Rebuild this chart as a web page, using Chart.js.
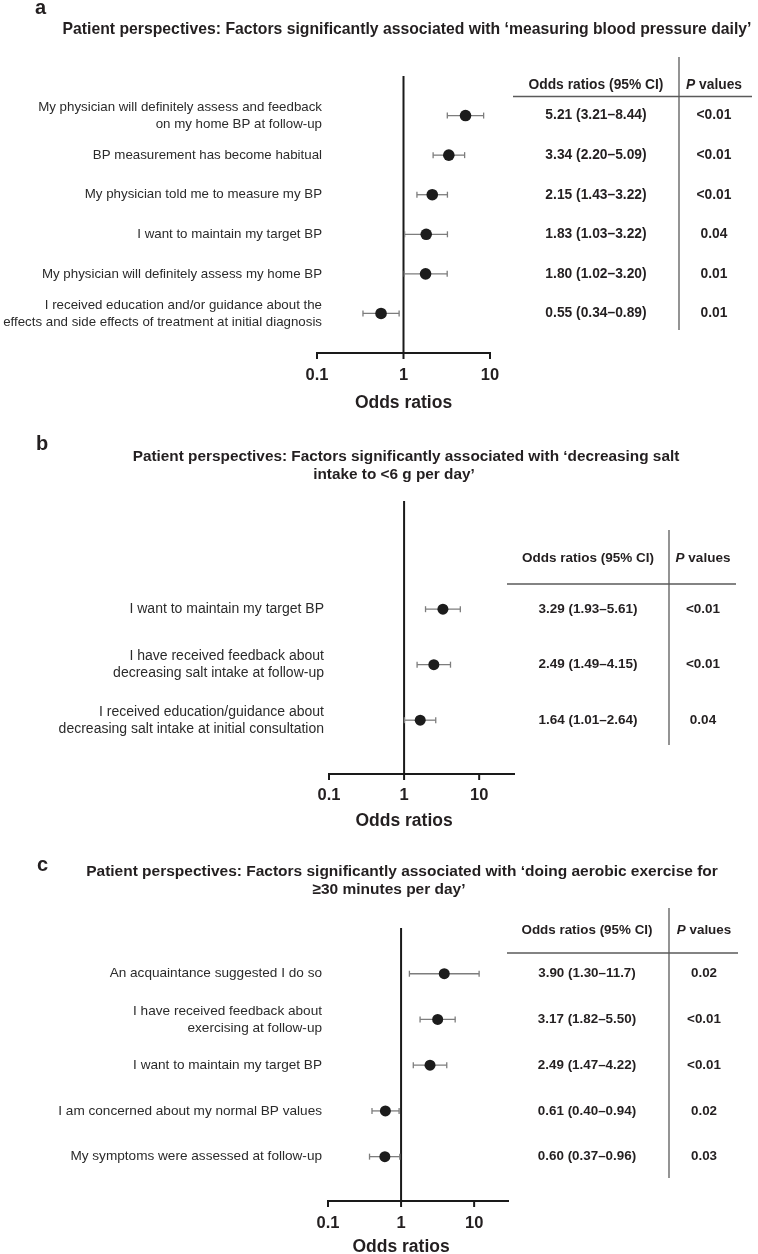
<!DOCTYPE html>
<html>
<head>
<meta charset="utf-8">
<script src="https://cdn.jsdelivr.net/npm/chart.js@4.4.1/dist/chart.umd.min.js"></script>
<style>
  html, body { margin: 0; padding: 0; background: #fff; }
  #wrap { position: relative; width: 758px; height: 1254px; overflow: hidden; }
  canvas { position: absolute; left: 0; }
</style>
</head>
<body>
<div id="wrap">
  <canvas id="chartA" width="758" height="425" style="top:0px"></canvas>
  <canvas id="chartB" width="758" height="415" style="top:425px"></canvas>
  <canvas id="chartC" width="758" height="414" style="top:840px"></canvas>
</div>
<script>
// ---- data ----
const xTicks = [0.1, 1, 10];

// a: measuring blood pressure daily
const titleA = ['Patient perspectives: Factors significantly associated with \u2018measuring blood pressure daily\u2019'];
const labelsA = [
  ['My physician will definitely assess and feedback', 'on my home BP at follow-up'],
  ['BP measurement has become habitual'],
  ['My physician told me to measure my BP'],
  ['I want to maintain my target BP'],
  ['My physician will definitely assess my home BP'],
  ['I received education and/or guidance about the', 'effects and side effects of treatment at initial diagnosis']
];
const orA = [5.21, 3.34, 2.15, 1.83, 1.80, 0.55];
const loA = [3.21, 2.20, 1.43, 1.03, 1.02, 0.34];
const hiA = [8.44, 5.09, 3.22, 3.22, 3.20, 0.89];
const pA = ['<0.01', '<0.01', '<0.01', '0.04', '0.01', '0.01'];

// b: decreasing salt intake
const titleB = ['Patient perspectives: Factors significantly associated with \u2018decreasing salt', 'intake to <6 g per day\u2019'];
const labelsB = [
  ['I want to maintain my target BP'],
  ['I have received feedback about', 'decreasing salt intake at follow-up'],
  ['I received education/guidance about', 'decreasing salt intake at initial consultation']
];
const orB = [3.29, 2.49, 1.64];
const loB = [1.93, 1.49, 1.01];
const hiB = [5.61, 4.15, 2.64];
const pB = ['<0.01', '<0.01', '0.04'];

// c: aerobic exercise
const titleC = ['Patient perspectives: Factors significantly associated with \u2018doing aerobic exercise for', '\u226530 minutes per day\u2019'];
const labelsC = [
  ['An acquaintance suggested I do so'],
  ['I have received feedback about', 'exercising at follow-up'],
  ['I want to maintain my target BP'],
  ['I am concerned about my normal BP values'],
  ['My symptoms were assessed at follow-up']
];
const orC = [3.90, 3.17, 2.49, 0.61, 0.60];
const loC = [1.30, 1.82, 1.47, 0.40, 0.37];
const hiC = [11.7, 5.50, 4.22, 0.94, 0.96];
const pC = ['0.02', '<0.01', '<0.01', '0.02', '0.03'];

// ---- drawing helpers ----
const FONT = '"Liberation Sans", Arial, Helvetica, sans-serif';
const INK = '#231f20';

function fnt(size, bold, italic) {
  return (italic ? 'italic ' : '') + (bold ? 'bold ' : '') + size + 'px ' + FONT;
}
function put(ctx, s, x, y, size, o) {
  o = o || {};
  ctx.save();
  ctx.font = fnt(size, o.bold, o.italic);
  ctx.fillStyle = o.color || INK;
  ctx.textAlign = o.align || 'center';
  ctx.textBaseline = 'middle';
  ctx.fillText(s, x, y);
  ctx.restore();
}
function fitSize(ctx, s, width, bold) {
  ctx.save();
  ctx.font = fnt(100, bold);
  const w = ctx.measureText(s).width;
  ctx.restore();
  return 100 * width / w;
}
function fmt(v) {
  return v >= 10 ? v.toFixed(1) : v.toFixed(2);
}
function line(ctx, x1, y1, x2, y2, w, c) {
  ctx.save();
  ctx.strokeStyle = c;
  ctx.lineWidth = w;
  ctx.beginPath();
  ctx.moveTo(x1, y1);
  ctx.lineTo(x2, y2);
  ctx.stroke();
  ctx.restore();
}

function forestPlugin(d, L) {
  return {
    id: 'forest',
    beforeDatasetsDraw(chart) {
      const ctx = chart.ctx, x = chart.scales.x, y = chart.scales.y, ca = chart.chartArea;
      // axis and line of no effect
      const x0 = x.getPixelForValue(x.min), x1 = x.getPixelForValue(x.max);
      line(ctx, x0, ca.bottom, x1, ca.bottom, 2, '#1a1a1a');
      xTicks.forEach(t => {
        const px = x.getPixelForValue(t);
        line(ctx, px, ca.bottom - 1, px, ca.bottom + 6, 2, '#1a1a1a');
      });
      const p1 = x.getPixelForValue(1);
      line(ctx, p1, ca.top, p1, ca.bottom, 2, '#1a1a1a');
      // confidence intervals
      d.or.forEach((v, i) => {
        const py = y.getPixelForValue(i);
        const a = x.getPixelForValue(d.lo[i]), b = x.getPixelForValue(d.hi[i]);
        line(ctx, a, py, b, py, 1.3, '#7d7d7d');
        line(ctx, a, py - 3, a, py + 3, 1.3, '#7d7d7d');
        line(ctx, b, py - 3, b, py + 3, 1.3, '#7d7d7d');
      });
    },
    afterDraw(chart) {
      const ctx = chart.ctx, x = chart.scales.x, y = chart.scales.y, ca = chart.chartArea;
      const T = L.top;
      // panel letter
      put(ctx, L.letter, L.letterX, L.letterY - T, 20, { bold: true, align: 'left' });
      // title
      const ts = fitSize(ctx, d.title[0], L.titleW, true);
      d.title.forEach((s, k) => put(ctx, s, L.titleX[k], L.titleY[k] - T, ts, { bold: true }));
      // category labels
      d.labels.forEach((lab, i) => {
        const py = y.getPixelForValue(i);
        lab.forEach((s, k) => {
          const off = (k - (lab.length - 1) / 2) * 17;
          put(ctx, s, L.labelX, py + off, L.labelSize, { align: 'right', color: '#2b2b2b' });
        });
      });
      // x tick labels and axis title
      xTicks.forEach(t => put(ctx, String(t), x.getPixelForValue(t), L.tickY - T, 16.5, { bold: true }));
      put(ctx, 'Odds ratios', x.getPixelForValue(1), L.axTitleY - T, 17.5, { bold: true });
      // table
      line(ctx, L.tblX0, L.hLineY - T, L.tblX1, L.hLineY - T, 1.3, '#5a5a5a');
      line(ctx, L.divX, L.divY0 - T, L.divX, L.divY1 - T, 1.3, '#5a5a5a');
      put(ctx, 'Odds ratios (95% CI)', L.ciX, L.headY - T, L.tblSize, { bold: true });
      ctx.save();
      ctx.font = fnt(L.tblSize, true, true);
      const wP = ctx.measureText('P').width;
      ctx.font = fnt(L.tblSize, true);
      const wV = ctx.measureText(' values').width;
      ctx.restore();
      const sx = L.pX - (wP + wV) / 2;
      put(ctx, 'P', sx, L.headY - T, L.tblSize, { bold: true, italic: true, align: 'left' });
      put(ctx, ' values', sx + wP, L.headY - T, L.tblSize, { bold: true, align: 'left' });
      d.or.forEach((v, i) => {
        const py = y.getPixelForValue(i);
        put(ctx, fmt(v) + ' (' + fmt(d.lo[i]) + '\u2013' + fmt(d.hi[i]) + ')', L.ciX, py, L.tblSize, { bold: true });
        put(ctx, d.p[i], L.pX, py, L.tblSize, { bold: true });
      });
    }
  };
}

function forest(id, d, L) {
  const canvas = document.getElementById(id);
  const pts = d.or.map((v, i) => ({ x: v, y: i }));
  return new Chart(canvas, {
    type: 'scatter',
    data: {
      datasets: [{
        data: pts,
        pointRadius: L.r,
        pointHoverRadius: L.r,
        backgroundColor: '#1c1c1c',
        borderWidth: 0,
        clip: false
      }]
    },
    options: {
      responsive: false,
      animation: false,
      devicePixelRatio: 1,
      events: [],
      layout: {
        padding: {
          left: L.caLeft,
          right: 758 - L.caRight,
          top: L.caTop - L.top,
          bottom: L.top + canvas.height - L.caBottom
        }
      },
      plugins: { legend: { display: false }, tooltip: { enabled: false } },
      scales: {
        x: { type: 'logarithmic', min: 0.1, max: L.xMax, display: false },
        y: { type: 'linear', min: L.yMin, max: L.yMax, reverse: true, display: false }
      }
    },
    plugins: [forestPlugin(d, L)]
  });
}

forest('chartA',
  { title: titleA, labels: labelsA, or: orA, lo: loA, hi: hiA, p: pA },
  { top: 0, caLeft: 317, caRight: 490, caTop: 76, caBottom: 353, xMax: 10, yMin: -1, yMax: 6, r: 5.8,
    letter: 'a', letterX: 35, letterY: 8,
    titleW: 689, titleX: [407], titleY: [30],
    labelX: 322, labelSize: 13.3,
    tickY: 375, axTitleY: 403,
    tblX0: 513, tblX1: 752, hLineY: 96.5, divX: 679, divY0: 57, divY1: 330,
    headY: 85, ciX: 596, pX: 714, tblSize: 13.8 });

forest('chartB',
  { title: titleB, labels: labelsB, or: orB, lo: loB, hi: hiB, p: pB },
  { top: 425, caLeft: 329, caRight: 515, caTop: 501, caBottom: 774, xMax: 30, yMin: -1.95, yMax: 2.97, r: 5.5,
    letter: 'b', letterX: 36, letterY: 444,
    titleW: 547, titleX: [406, 394], titleY: [457, 475],
    labelX: 324, labelSize: 14,
    tickY: 795, axTitleY: 821,
    tblX0: 507, tblX1: 736, hLineY: 584, divX: 669, divY0: 530, divY1: 745,
    headY: 558, ciX: 588, pX: 703, tblSize: 13.5 });

forest('chartC',
  { title: titleC, labels: labelsC, or: orC, lo: loC, hi: hiC, p: pC },
  { top: 840, caLeft: 328, caRight: 509, caTop: 928, caBottom: 1201, xMax: 30, yMin: -1, yMax: 4.97, r: 5.5,
    letter: 'c', letterX: 37, letterY: 865,
    titleW: 632, titleX: [402, 389], titleY: [872, 890],
    labelX: 322, labelSize: 13.6,
    tickY: 1223, axTitleY: 1247,
    tblX0: 507, tblX1: 738, hLineY: 953, divX: 669, divY0: 908, divY1: 1178,
    headY: 930, ciX: 587, pX: 704, tblSize: 13.4 });
</script>
</body>
</html>
